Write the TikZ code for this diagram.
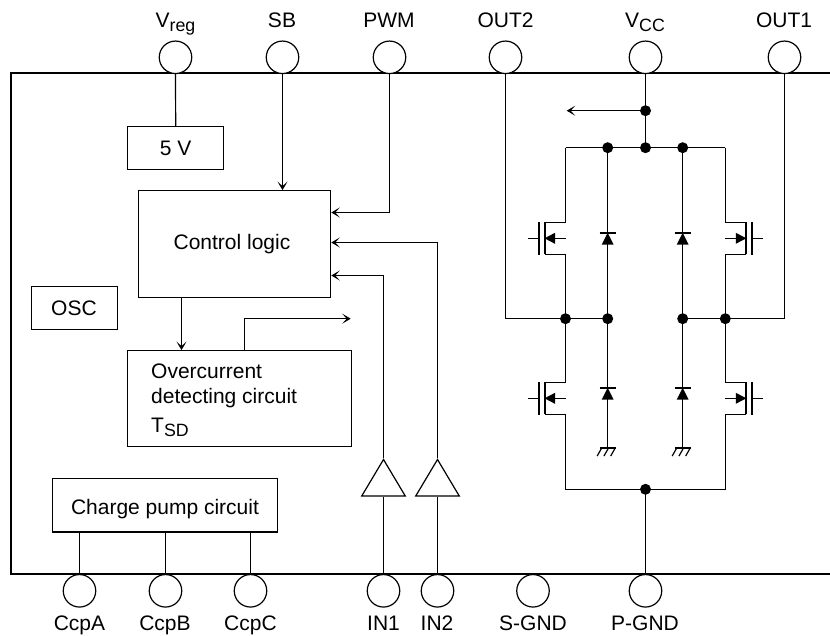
\documentclass[tikz,border=0pt]{standalone}
\usepackage{fontspec}
\setmainfont{Liberation Sans}
\usetikzlibrary{arrows.meta,shapes.geometric}
\newcommand{\lowtxt}[1]{\raisebox{-4pt}{\fontsize{17.8}{18}\selectfont #1}}
\tikzset{
  wire/.style={line width=1.2pt,draw=black},
  arrowwire/.style={wire,-{Stealth[inset=4.5pt,length=8.5pt,width=10pt]}},
  frameline/.style={line width=2.6pt,draw=black},
  pin/.style={circle,draw=black,line width=1.2pt,fill=white,minimum size=32.5pt,inner sep=0pt},
  blockbox/.style={rectangle,draw=black,line width=1.2pt,inner sep=0pt},
  label/.style={font=\fontsize{21}{24.3}\selectfont,inner sep=0pt},
  pinlabel/.style={label,anchor=base},
  dot/.style={circle,fill=black,minimum size=11pt,inner sep=0pt},
  buffer/.style={isosceles triangle,shape border rotate=90,isosceles triangle apex angle=61,isosceles triangle stretches,draw=black,line width=1.2pt,minimum width=43.5pt,minimum height=36.5pt,inner sep=0pt,anchor=apex},
  pics/mosfet/.style={code={
    \draw[wire] (0,-16)--(-21,-16) (-21,16)--(0,16);
    \draw[line width=2pt] (-21,-16)--(-21,16);
    \draw[line width=2pt] (-26.5,-16.5)--(-26.5,16.5);
    \draw[wire] (-26.5,0)--(-38,0);
    \draw[wire] (0.5,0)--(-11,0);
    \fill (-21,0)--(-10.5,-5.5)--(-10.5,5.5)--cycle;
  }},
  pics/diode/.style={code={
    \fill (0,0)--(-6,12)--(6,12)--cycle;
    \draw[line width=1.8pt] (-8,0)--(8,0);
  }},
  pics/earth/.style={code={
    \draw[wire] (-7.7,0)--(8,0);
    \foreach \t in {-6,0.8,7.5}{\draw[wire] (\t,0)--(\t-4.5,8);}
  }},
}
\begin{document}
\begin{tikzpicture}[x=1pt,y=-1pt]
\useasboundingbox (0,0) rectangle (830,635);
% frame
\coordinate (ftr) at (830,73);
\coordinate (ftl) at (11,73);
\coordinate (fbl) at (11,574);
\coordinate (fbr) at (830,574);
\draw[frameline] (ftr)--(ftl)--(fbl)--(fbr);
% top pins
\foreach \n/\x in {vreg/175.5,sb/282.5,pwm/389.5,outb/505.5,vcc/645.5,outa/784.5}
  \node[pin] (\n) at (\x,57.3) {};
% bottom pins
\foreach \n/\x in {ccpa/79.5,ccpb/165.5,ccpc/250.5,ina/383.5,inb/437.5,sgnd/533,pgnd/645.5}
  \node[pin] (\n) at (\x,590.8) {};
% pin labels
\node[pinlabel] (lvreg) at (175.5,27) {V\lowtxt{reg}};
\node[pinlabel] (lsb) at (282,27) {SB};
\node[pinlabel] (lpwm) at (389,27) {PWM};
\node[pinlabel] (loutb) at (505.5,27) {OUT2};
\node[pinlabel] (lvcc) at (645,27) {V\lowtxt{CC}};
\node[pinlabel] (louta) at (784,27) {OUT1};
\node[pinlabel] (lccpa) at (79.5,630) {CcpA};
\node[pinlabel] (lccpb) at (165,630) {CcpB};
\node[pinlabel] (lccpc) at (250.5,630) {CcpC};
\node[pinlabel] (lina) at (383.5,630) {IN1};
\node[pinlabel] (linb) at (437,630) {IN2};
\node[pinlabel] (lsgnd) at (533,630) {S-GND};
\node[pinlabel] (lpgnd) at (645,630) {P-GND};
% blocks
\node[blockbox,minimum width=96pt,minimum height=42.6pt] (five) at (175.7,148) {};
\node[pinlabel] (fivet) at (175.7,155) {5 V};
\node[blockbox,minimum width=192.4pt,minimum height=106.6pt] (ctrl) at (234.5,244) {};
\node[pinlabel] (ctrlt) at (232,249) {Control logic};
\node[blockbox,minimum width=86pt,minimum height=42.6pt] (osc) at (74.3,308) {};
\node[pinlabel] (osct) at (74,315) {OSC};
\node[blockbox,minimum width=224pt,minimum height=95.6pt] (over) at (239.7,398.5) {};
\node[label,align=left,anchor=north west] (overt) at (151,364) {Overcurrent\\detecting circuit\\[5pt]T\lowtxt{SD}};
\node[blockbox,minimum width=224.6pt,minimum height=53.3pt] (pump) at (165,505.3) {};
\node[pinlabel] (pumpt) at (165,514) {Charge pump circuit};
% buffers
\node[buffer] (bufa) at (383.5,458.3) {};
\node[buffer] (bufb) at (437.5,458.3) {};
% left wires
\draw[wire] (vreg.south)--(five.north);
\draw[arrowwire] (sb.south)--(sb.south|-ctrl.north);
\coordinate (pwmk) at (389.5,212.5);
\draw[arrowwire] (pwm.south)--(pwmk)--(ctrl.east|-pwmk);
\coordinate (inbk) at (437.5,242.5);
\draw[arrowwire] (bufb.apex)--(inbk)--(ctrl.east|-inbk);
\coordinate (inak) at (383.5,275.5);
\draw[arrowwire] (bufa.apex)--(inak)--(ctrl.east|-inak);
\draw[wire] (ina.north)--(ina.north|-bufa.south);
\draw[wire] (inb.north)--(inb.north|-bufb.south);
\coordinate (cx) at (181.5,300);
\draw[arrowwire] (cx|-ctrl.south)--(cx|-over.north);
\coordinate (ovk) at (244.5,318.7);
\coordinate (ove) at (350.7,318.7);
\draw[arrowwire] (ovk|-over.north)--(ovk)--(ove);
\draw[wire] (ccpa.north)--(ccpa.north|-pump.south);
\draw[wire] (ccpb.north)--(ccpb.north|-pump.south);
\draw[wire] (ccpc.north)--(ccpc.north|-pump.south);
% bridge junctions
\node[dot] (vj) at (645.5,110.7) {};
\node[dot] (bt) at (645.5,147.7) {};
\node[dot] (btl) at (607.7,147.7) {};
\node[dot] (btr) at (682.7,147.7) {};
\node[dot] (ml) at (565.5,318.7) {};
\node[dot] (mdl) at (607.7,318.7) {};
\node[dot] (mdr) at (682.7,318.7) {};
\node[dot] (mr) at (725.3,318.7) {};
\node[dot] (bb) at (645.5,489.3) {};
\coordinate (ctl) at (565.5,147.7);
\coordinate (ctr) at (725.3,147.7);
\coordinate (cbl) at (565.5,489.3);
\coordinate (cbr) at (725.3,489.3);
\coordinate (arr) at (566.7,110.7);
\coordinate (o2k) at (505.5,318.7);
\coordinate (o1k) at (784.5,318.7);
% mosfets
\coordinate (q1) at (565.5,238.3);
\coordinate (q2) at (725.3,238.3);
\coordinate (q3) at (565.5,398.3);
\coordinate (q4) at (725.3,398.3);
\pic at (q1) {mosfet};
\pic[xscale=-1] at (q2) {mosfet};
\pic at (q3) {mosfet};
\pic[xscale=-1] at (q4) {mosfet};
% diodes
\pic at (607.7,232.7) {diode};
\pic at (682.7,232.7) {diode};
\pic at (607.7,387.7) {diode};
\pic at (682.7,387.7) {diode};
% grounds
\coordinate (gl) at (607.7,448);
\coordinate (gr) at (682.7,448);
\pic at (gl) {earth};
\pic at (gr) {earth};
% bridge wires
\draw[wire] (vcc.south)--(bt.center);
\draw[arrowwire] (vj.center)--(arr);
\draw[wire] (ctl)--(ctr);
\draw[wire] (ctl)--(565.5,222.3) (565.5,254.3)--(ml.center);
\draw[wire] (ctr)--(725.3,222.3) (725.3,254.3)--(mr.center);
\draw[wire] (ml.center)--(565.5,382.3) (565.5,414.3)--(cbl)--(cbr)--(725.3,414.3) (725.3,382.3)--(mr.center);
\draw[wire] (btl.center)--(gl);
\draw[wire] (btr.center)--(gr);
\draw[wire] (outb.south)--(o2k)--(mdl.center);
\draw[wire] (outa.south)--(o1k)--(mdr.center);
\draw[wire] (bb.center)--(pgnd.north);
\end{tikzpicture}
\end{document}
